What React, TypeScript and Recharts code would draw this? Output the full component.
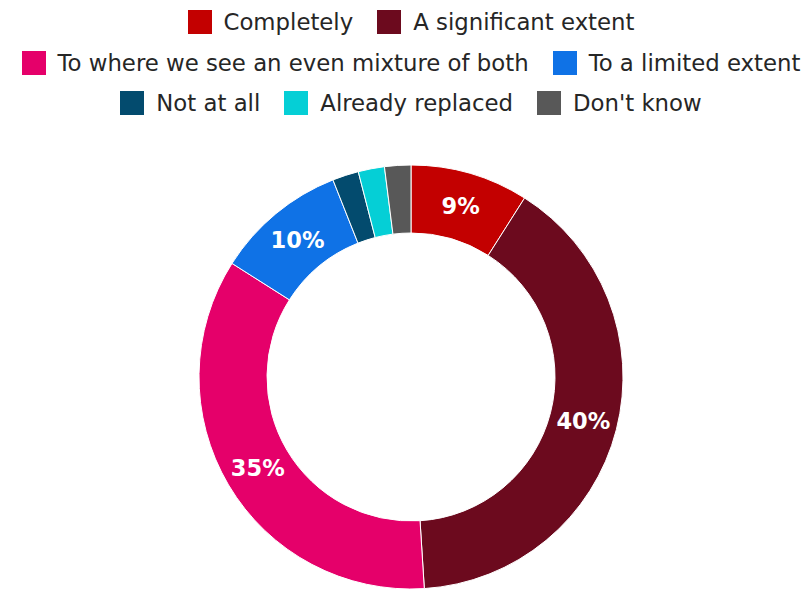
import React from "react";
import { PieChart, Pie, Cell } from "recharts";

const categories = [
  "Completely",
  "A significant extent",
  "To where we see an even mixture of both",
  "To a limited extent",
  "Not at all",
  "Already replaced",
  "Don't know",
];
const values = [9, 40, 35, 10, 2, 2, 2];
const colors = ["#c30000", "#6c0a1e", "#e5006a", "#0f72e6", "#034b6e", "#05cfd6", "#585858"];
const legendRowSizes = [2, 2, 3];

const data = categories.map((name, i) => ({ name, value: values[i], color: colors[i] }));

const RADIAN = Math.PI / 180;

const renderLabel = (props: any) => {
  const { cx, cy, midAngle, innerRadius, outerRadius, value } = props;
  if (value < 5) return null;
  const r = (innerRadius + outerRadius) / 2;
  const x = cx + r * Math.cos(-midAngle * RADIAN);
  const y = cy + r * Math.sin(-midAngle * RADIAN);
  return (
    <text
      x={x}
      y={y}
      fill="#ffffff"
      textAnchor="middle"
      dominantBaseline="central"
      fontFamily="DejaVu Sans"
      fontWeight="bold"
      fontSize={22.5}
    >
      {`${value}%`}
    </text>
  );
};

const LegendBlock = () => {
  const rows: typeof data[] = [];
  let idx = 0;
  for (const n of legendRowSizes) {
    rows.push(data.slice(idx, idx + n));
    idx += n;
  }
  return (
    <div
      style={{
        position: "absolute",
        left: 0,
        top: 0,
        paddingTop: 2,
        paddingLeft: 20,
        width: 802,
        boxSizing: "border-box",
      }}
    >
      {rows.map((row, ri) => (
        <div
          key={ri}
          style={{
            display: "flex",
            justifyContent: "center",
            alignItems: "center",
            height: 40.5,
            gap: 24,
          }}
        >
          {row.map((d) => (
            <div key={d.name} style={{ display: "flex", alignItems: "center", gap: 12 }}>
              <span style={{ display: "inline-block", width: 24, height: 24, background: d.color }} />
              <span
                style={{
                  fontFamily: "DejaVu Sans",
                  fontSize: 22.8,
                  color: "#262626",
                  whiteSpace: "nowrap",
                  lineHeight: "24px",
                }}
              >
                {d.name}
              </span>
            </div>
          ))}
        </div>
      ))}
    </div>
  );
};

export default function App() {
  return (
    <div style={{ position: "absolute", left: 0, top: 0, width: 802, height: 589, background: "#fff" }}>
      <PieChart width={802} height={589} margin={{ top: 0, right: 0, bottom: 0, left: 0 }}>
        <Pie
          data={data}
          dataKey="value"
          nameKey="name"
          cx={411}
          cy={377}
          innerRadius={144}
          outerRadius={212}
          startAngle={90}
          endAngle={-270}
          stroke="#ffffff"
          strokeWidth={1}
          label={renderLabel}
          labelLine={false}
          isAnimationActive={false}
        >
          {data.map((d) => (
            <Cell key={d.name} fill={d.color} />
          ))}
        </Pie>
      </PieChart>
      <LegendBlock />
    </div>
  );
}
